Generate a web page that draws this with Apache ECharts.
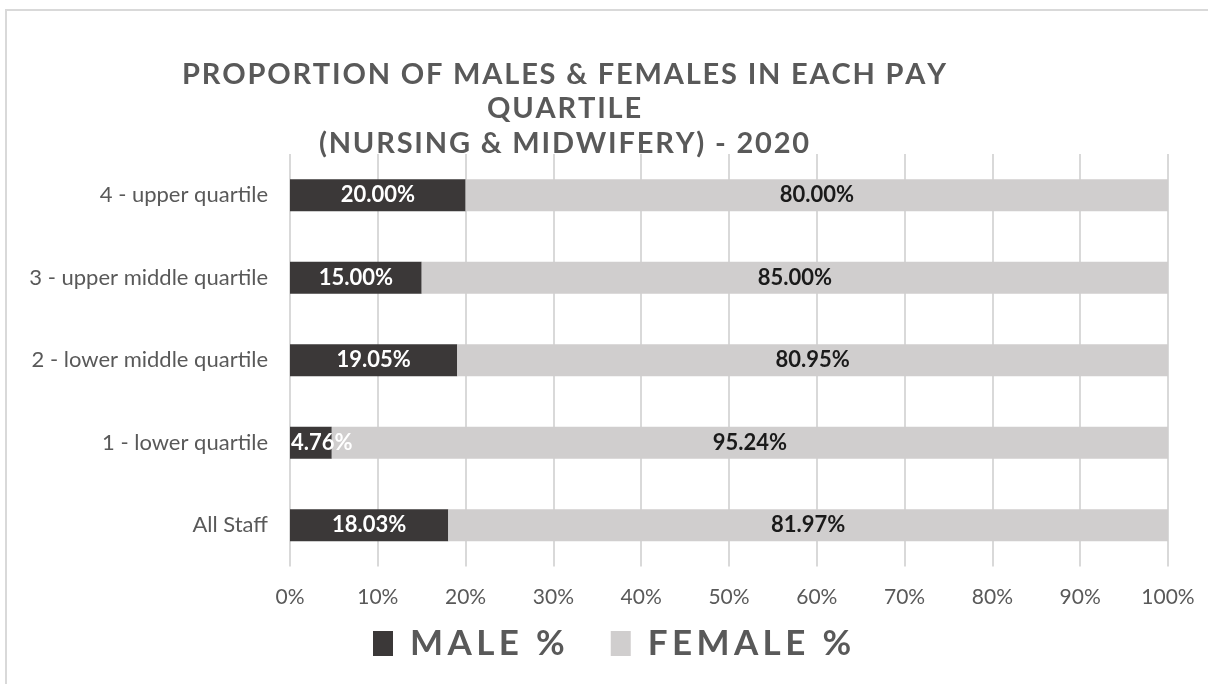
<!DOCTYPE html>
<html>
<head>
<meta charset="utf-8">
<script src="https://cdn.jsdelivr.net/npm/echarts@6/dist/echarts.min.js"></script>
<style>
  html, body { margin: 0; padding: 0; background: #fff; }
  #chart { width: 1208px; height: 684px; }
</style>
</head>
<body>
<div id="chart"></div>
<script>
// categories, top to bottom
const categories = ["4 - upper quartile", "3 - upper middle quartile", "2 - lower middle quartile", "1 - lower quartile", "All Staff"];
const maleValues = [20.00, 15.00, 19.05, 4.76, 18.03];
const femaleValues = [80.00, 85.00, 80.95, 95.24, 81.97];
const xTicks = [0, 10, 20, 30, 40, 50, 60, 70, 80, 90, 100];

const FONT = "Lato, 'Open Sans', sans-serif";
const GREY_TEXT = "#595959";

const chart = echarts.init(document.getElementById("chart"));

// spread letters a bit, like the original's letter spacing
const spaced = (s, gap) => s.split("").join(gap || "\u200A");

// too-narrow male bars: the label starts at the bar's left edge and runs over
const maleData = maleValues.map((v) => v < 8 ? { value: v, label: { position: "insideLeft", distance: 1 } } : v);

chart.setOption({
  animation: false,
  title: {
    text: spaced("PROPORTION OF MALES & FEMALES IN EACH PAY") + "\n" + spaced("QUARTILE") + "\n" + spaced("(NURSING & MIDWIFERY) - 2020"),
    left: 559,
    top: 52,
    textAlign: "center",
    textStyle: {
      fontFamily: FONT,
      fontSize: 29,
      fontWeight: "bold",
      color: GREY_TEXT,
      lineHeight: 34.5
    }
  },
  graphic: [{
    type: "rect",
    shape: { x: 6, y: 10, width: 1220, height: 700 },
    style: { fill: "none", stroke: "#d9d9d9", lineWidth: 2 },
    silent: true
  }],
  legend: {
    top: 621,
    left: 368,
    itemWidth: 20,
    itemHeight: 25,
    itemGap: 46,
    icon: "rect",
    formatter: (name) => spaced(name, "\u2009"),
    textStyle: {
      fontFamily: FONT,
      fontSize: 35,
      fontWeight: "bold",
      color: GREY_TEXT,
      padding: [0, 0, 0, 12]
    },
    data: ["MALE %", "FEMALE %"]
  },
  grid: {
    left: 290,
    right: 40,
    top: 154,
    bottom: 117.5,
    containLabel: false
  },
  xAxis: {
    type: "value",
    min: 0,
    max: 100,
    interval: 10,
    axisLine: { show: false },
    axisTick: { show: false },
    splitLine: { show: true, lineStyle: { color: "#d9d9d9", width: 2 } },
    axisLabel: {
      margin: 20,
      fontFamily: FONT,
      fontSize: 21,
      color: GREY_TEXT,
      formatter: (v) => xTicks.includes(v) ? v + "%" : ""
    }
  },
  yAxis: {
    type: "category",
    inverse: true,
    data: categories,
    axisLine: { show: false },
    axisTick: { show: false },
    axisLabel: {
      margin: 22,
      fontFamily: FONT,
      fontSize: 22,
      color: GREY_TEXT
    }
  },
  series: [
    {
      name: "MALE %",
      type: "bar",
      stack: "total",
      barWidth: "39%",
      data: maleData,
      itemStyle: { color: "#3b3838" },
      label: {
        show: true,
        position: "inside",
        fontFamily: FONT,
        fontSize: 22,
        fontWeight: "bold",
        color: "#fff",
        formatter: (p) => p.value.toFixed(2) + "%"
      }
    },
    {
      name: "FEMALE %",
      type: "bar",
      stack: "total",
      barWidth: "39%",
      data: femaleValues,
      itemStyle: { color: "#d0cece" },
      label: {
        show: true,
        position: "inside",
        fontFamily: FONT,
        fontSize: 22,
        fontWeight: "bold",
        color: "#1a1a1a",
        formatter: (p) => p.value.toFixed(2) + "%"
      }
    }
  ]
});
</script>
</body>
</html>
